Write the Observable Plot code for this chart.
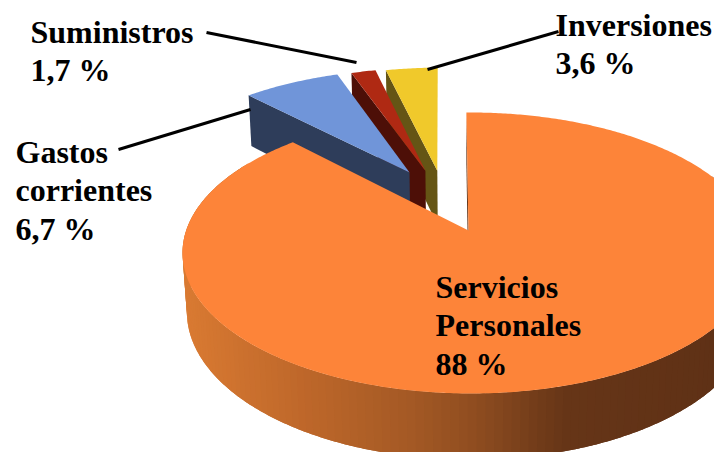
<!DOCTYPE html>
<html><head><meta charset="utf-8">
<script src="https://cdn.jsdelivr.net/npm/d3@7"></script>
<script src="https://cdn.jsdelivr.net/npm/@observablehq/plot@0.6"></script>
<style>html,body{margin:0;padding:0;background:#fff;overflow:hidden}svg{display:block}</style>
</head><body><div id="chart"></div>
<script>
const categories = ["Servicios Personales", "Gastos corrientes", "Suministros", "Inversiones"];
const shares = [88, 6.7, 1.7, 3.6];
const labelLines = ["Servicios\nPersonales\n88 %", "Gastos\ncorrientes\n6,7 %", "Suministros\n1,7 %", "Inversiones\n3,6 %"];

// Appearance and layout, kept apart from the values
const topColors = ["#FD8439", "#7095D9", "#AF2913", "#F0C92B"];
const sideColors = ["#8F4D20", "#2E3D5A", "#4D0F07", "#655515"];
const explode = [[0.007, 0], [-0.2226, -0.4543], [-0.163, -0.47], [-0.118, -0.47]];
const labelAt = [[435, 270], [15, 135], [30, 15], [555, 8]];
const leaders = [[[118, 149], [250, 109]], [[206, 32], [356, 62]], [[427, 69], [558, 31]]];
const wallRamp = d3.scaleLinear()
  .domain([185, 300, 400, 470, 560, 714])
  .range(["#D97A32", "#BE672A", "#A65A25", "#8F4D20", "#663517", "#5F3116"])
  .clamp(true);

// Perspective view of a tilted disc: u right, v towards the viewer, z downwards
const project = (u, v, z = 0) => {
  const w = 1 - 0.16 * v + 0.015 * z;
  return [468 + 284.3 * u / w, 230 + (136.9 * v + 59 * z) / w];
};
const rim = (a, [ou, ov], z = 0) => project(Math.sin(a) + ou, -Math.cos(a) + ov, z);
const rimArc = (a0, a1, o, z = 0) => {
  const n = Math.max(2, Math.ceil((a1 - a0) / 0.01));
  return d3.range(n + 1).map(i => rim(a0 + (a1 - a0) * i / n, o, z));
};

const rotation = -0.9 * Math.PI / 180;
const arcs = d3.pie().sort(null).startAngle(rotation).endAngle(rotation + 2 * Math.PI)(shares);

const faces = [], walls = [], front = [];
const addPoly = (rows, id, color, pts) => pts.forEach(([x, y]) => rows.push({id, color, x, y}));

// Exploded slices, back to front: radial wall then top face
[3, 2, 1].forEach(i => {
  const {startAngle: a0, endAngle: a1} = arcs[i];
  const o = explode[i];
  const apex = z => project(o[0], o[1], z);
  addPoly(faces, `side${i}`, sideColors[i], [rim(a0, o), apex(0), apex(1), rim(a0, o, 1)]);
  addPoly(faces, `top${i}`, topColors[i], [apex(0), ...rimArc(a0, a1, o)]);
});

// Main slice: overlapping outer wall strips, inner face, top face
const {startAngle: s0, endAngle: s1} = arcs[0];
const o0 = explode[0];
const stripStep = 1.5 * Math.PI / 180;
d3.range(65 * Math.PI / 180, 300 * Math.PI / 180, stripStep).forEach((a, k) => {
  const b = a + stripStep * 2;
  const p = [...rimArc(a, b, o0), ...rimArc(a, b, o0, 1).reverse()];
  addPoly(walls, `wall${k}`, wallRamp(d3.mean(p, d => d[0])), p);
});
addPoly(front, "inner", "#5F3116", [rim(s0, o0), project(0, 0), project(0, 0, 1), rim(s0, o0, 1)]);
addPoly(front, "top0", topColors[0], [project(0, 0), ...rimArc(s0, s1, o0)]);

const leaderRows = leaders.flatMap((l, i) => l.map(([x, y]) => ({i, x, y})));
const labels = labelLines.map((text, i) => ({text, category: categories[i], x: labelAt[i][0], y: labelAt[i][1]}));

const chart = Plot.plot({
  width: 714, height: 452, margin: 0,
  x: {domain: [0, 714], range: [0, 714], axis: null},
  y: {domain: [0, 452], range: [0, 452], axis: null},
  color: {type: "identity"},
  marks: [
    Plot.line(faces, {x: "x", y: "y", z: "id", fill: "color", stroke: "none"}),
    Plot.line(walls, {x: "x", y: "y", z: "id", fill: "color", stroke: "none"}),
    Plot.line(front, {x: "x", y: "y", z: "id", fill: "color", stroke: "none"}),
    Plot.line(leaderRows, {x: "x", y: "y", z: "i", stroke: "#000", strokeWidth: 3, strokeLinecap: "butt"}),
    Plot.text(labels, {
      x: "x", y: "y", text: "text", textAnchor: "start", lineAnchor: "top", lineHeight: 1.2,
      fontFamily: "'Liberation Serif', serif", fontWeight: "bold", fontSize: 32, fill: "#000"
    })
  ]
});
document.getElementById("chart").append(chart);
</script></body></html>
